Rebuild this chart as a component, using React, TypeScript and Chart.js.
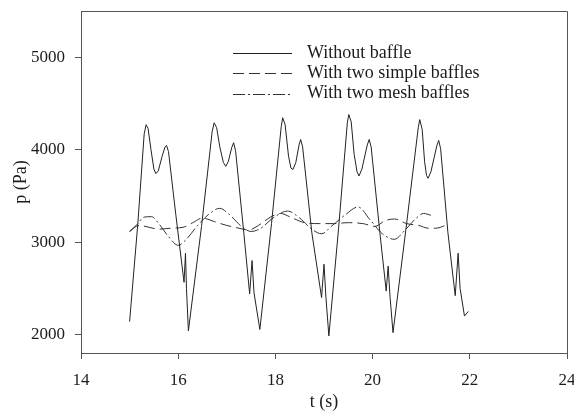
import React, { useEffect, useRef } from "react";
import { Chart, registerables } from "chart.js";

Chart.register(...registerables);

// ---- data ----
const seriesLabels = ["Without baffle", "With two simple baffles", "With two mesh baffles"];

const withoutT = [
  15.0, 15.17, 15.3, 15.34, 15.38, 15.44, 15.5, 15.54, 15.59, 15.67, 15.73, 15.76, 15.8, 15.95, 16.12, 16.15, 16.17, 16.21,
  16.48, 16.7, 16.74, 16.79, 16.86, 16.93, 16.98, 17.03, 17.1, 17.14, 17.18, 17.35, 17.47, 17.52, 17.56, 17.68,
  17.92, 18.12, 18.15, 18.2, 18.27, 18.32, 18.36, 18.42, 18.49, 18.52, 18.56, 18.75, 18.95, 19.0, 19.04, 19.1,
  19.3, 19.48, 19.51, 19.56, 19.62, 19.68, 19.72, 19.78, 19.89, 19.93, 19.97, 20.15, 20.28, 20.32, 20.36, 20.42,
  20.7, 20.94, 20.97, 21.02, 21.07, 21.11, 21.14, 21.2, 21.32, 21.36, 21.4, 21.55, 21.7, 21.76, 21.8, 21.89, 21.97,
];
const withoutP = [
  2140, 3205, 4170, 4270, 4230, 4000, 3790, 3740, 3770, 3930, 4030, 4045, 3980, 3300, 2565, 2880, 2500, 2040,
  3170, 4200, 4290, 4240, 4020, 3860, 3820, 3870, 4020, 4075, 3990, 3100, 2440, 2800, 2450, 2055,
  3200, 4250, 4345, 4270, 3930, 3800, 3785, 3860, 4060, 4110, 4030, 3100, 2400, 2760, 2400, 1985,
  3150, 4290, 4380, 4300, 3950, 3760, 3715, 3790, 4050, 4110, 4030, 3100, 2470, 2740, 2400, 2020,
  3200, 4240, 4325, 4220, 3870, 3720, 3690, 3760, 4040, 4100, 4010, 3100, 2420, 2880, 2500, 2200, 2250,
];

const simpleT = [
  15.0, 15.2, 15.4, 15.6, 15.85, 16.1, 16.3, 16.5, 16.75, 17.0, 17.25, 17.45, 17.65, 17.9,
  18.1, 18.35, 18.6, 18.9, 19.2, 19.5, 19.8, 20.05, 20.25, 20.45, 20.7, 20.95, 21.15, 21.3, 21.5,
];
const simpleP = [
  3120, 3180, 3160, 3140, 3150, 3160, 3210, 3260, 3220, 3180, 3150, 3130, 3180, 3270,
  3310, 3260, 3210, 3200, 3200, 3210, 3200, 3170, 3230, 3250, 3200, 3180, 3150, 3150, 3180,
];

const meshT = [
  15.0, 15.15, 15.3, 15.45, 15.6, 15.8, 16.0, 16.15, 16.4, 16.65, 16.85, 17.05, 17.3, 17.5,
  17.7, 17.95, 18.25, 18.5, 18.75, 18.95, 19.15, 19.45, 19.7, 19.95, 20.2, 20.45, 20.65,
  20.9, 21.05, 21.2,
];
const meshP = [
  3110, 3190, 3270, 3275, 3200, 3060, 2965, 3020, 3180, 3310, 3365, 3300, 3170, 3115,
  3150, 3260, 3335, 3260, 3140, 3090, 3170, 3300, 3380, 3240, 3090, 3030, 3120,
  3260, 3310, 3290,
];

const xTicks = [14, 16, 18, 20, 22, 24];
const yTicks = [2000, 3000, 4000, 5000];
const xRange = [14, 24];
const yRange = [1800, 5500];

const toPoints = (t: number[], p: number[]) => t.map((x, i) => ({ x, y: p[i] }));

const SERIF = "'Liberation Serif', 'Times New Roman', serif";
const TEXT = "#1c1c1c";
const AXIS = "#555555";

const framePlugin = {
  id: "frameAndLegend",
  afterDraw(chart: any) {
    const { ctx, chartArea } = chart;
    const { left, top, right, bottom } = chartArea;
    ctx.save();
    ctx.strokeStyle = AXIS;
    ctx.lineWidth = 1;
    ctx.setLineDash([]);
    ctx.beginPath();
    ctx.moveTo(Math.round(left), Math.round(top) + 0.5);
    ctx.lineTo(Math.round(right) + 0.5, Math.round(top) + 0.5);
    ctx.lineTo(Math.round(right) + 0.5, Math.round(bottom));
    ctx.stroke();

    // legend
    const x0 = left + 152;
    const x1 = left + 211;
    const tx = left + 226;
    const y0 = top + 42;
    const dy = 20.3;
    ctx.font = `18px ${SERIF}`;
    ctx.textBaseline = "middle";
    ctx.textAlign = "left";
    chart.data.datasets.forEach((ds: any, i: number) => {
      const y = Math.round(y0 + i * dy) + 0.5;
      ctx.strokeStyle = ds.borderColor;
      ctx.lineWidth = 1;
      ctx.setLineDash(ds.borderDash || []);
      ctx.beginPath();
      ctx.moveTo(x0, y);
      ctx.lineTo(x1, y);
      ctx.stroke();
      ctx.fillStyle = TEXT;
      ctx.fillText(ds.label, tx, y0 + i * dy);
    });
    ctx.restore();
  },
};

export default function App() {
  const canvasRef = useRef<HTMLCanvasElement | null>(null);

  useEffect(() => {
    document.body.style.margin = "0";
    const canvas = canvasRef.current;
    if (!canvas) return;
    const chart = new Chart(canvas, {
      type: "line",
      data: {
        datasets: [
          {
            label: seriesLabels[0],
            data: toPoints(withoutT, withoutP),
            borderColor: "#222222",
            borderWidth: 1,
            pointRadius: 0,
            tension: 0,
          },
          {
            label: seriesLabels[1],
            data: toPoints(simpleT, simpleP),
            borderColor: "#333333",
            borderWidth: 1,
            borderDash: [11, 5],
            pointRadius: 0,
            cubicInterpolationMode: "monotone",
          },
          {
            label: seriesLabels[2],
            data: toPoints(meshT, meshP),
            borderColor: "#333333",
            borderWidth: 1,
            borderDash: [12, 3, 2, 3],
            pointRadius: 0,
            cubicInterpolationMode: "monotone",
          },
        ],
      },
      options: {
        responsive: false,
        animation: false,
        events: [],
        layout: { padding: { top: 11, right: 7, left: 0, bottom: 0 } },
        plugins: {
          legend: { display: false },
          tooltip: { enabled: false },
          title: { display: false },
        },
        scales: {
          x: {
            type: "linear",
            min: xRange[0],
            max: xRange[1],
            afterBuildTicks: (scale: any) => {
              scale.ticks = xTicks.map((v) => ({ value: v }));
            },
            afterFit: (scale: any) => {
              scale.height = 60;
              scale.paddingLeft = 0;
              scale.paddingRight = 0;
            },
            grid: {
              display: true,
              drawOnChartArea: false,
              drawTicks: true,
              tickLength: 6,
              color: AXIS,
            },
            border: { display: true, color: AXIS, width: 1 },
            ticks: {
              font: { family: SERIF, size: 17 },
              color: TEXT,
              padding: 11,
              maxRotation: 0,
              autoSkip: false,
              callback: (v: any) => String(v),
            },
            title: {
              display: true,
              text: "t (s)",
              font: { family: SERIF, size: 18 },
              color: TEXT,
              padding: { top: 0, bottom: 0 },
            },
          },
          y: {
            type: "linear",
            min: yRange[0],
            max: yRange[1],
            afterBuildTicks: (scale: any) => {
              scale.ticks = yTicks.map((v) => ({ value: v }));
            },
            afterFit: (scale: any) => {
              scale.width = 81;
              scale.paddingTop = 0;
              scale.paddingBottom = 0;
            },
            grid: {
              display: true,
              drawOnChartArea: false,
              drawTicks: true,
              tickLength: 6,
              color: AXIS,
            },
            border: { display: true, color: AXIS, width: 1 },
            ticks: {
              font: { family: SERIF, size: 17 },
              color: TEXT,
              padding: 10,
              autoSkip: false,
              callback: (v: any) => String(v),
            },
            title: {
              display: true,
              text: "p (Pa)",
              font: { family: SERIF, size: 18 },
              color: TEXT,
              padding: { top: 10, bottom: 0 },
            },
          },
        },
      },
      plugins: [framePlugin],
    });
    return () => chart.destroy();
  }, []);

  return (
    <div style={{ width: 574, height: 413, background: "#ffffff" }}>
      <canvas ref={canvasRef} width={574} height={413} style={{ display: "block" }} />
    </div>
  );
}
